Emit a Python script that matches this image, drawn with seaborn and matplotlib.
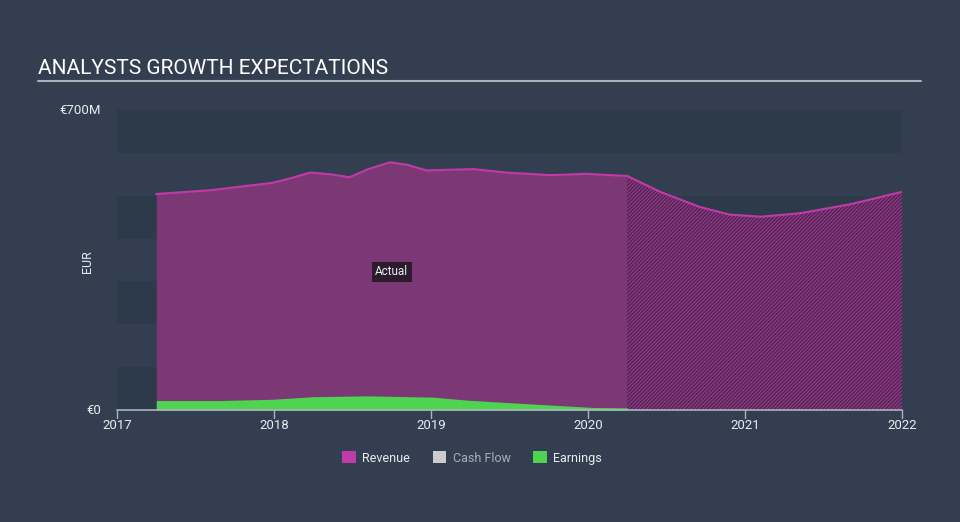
import matplotlib
matplotlib.use("Agg")
import matplotlib.pyplot as plt
import seaborn as sns
import pandas as pd
import numpy as np

# ---- data (EUR millions) ----
rev_years = [2017.25, 2017.6, 2017.99, 2018.1, 2018.23, 2018.36, 2018.48, 2018.6, 2018.74, 2018.85,
             2018.97, 2019.27, 2019.48, 2019.76, 2019.99, 2020.25]
rev_values = [504, 513, 530, 540, 554, 550, 543, 562, 578, 572, 559, 562, 554, 548, 551, 546]

fc_years = [2020.25, 2020.46, 2020.71, 2020.90, 2021.10, 2021.35, 2021.67, 2022.0]
fc_values = [546, 509, 474, 456, 451, 459, 480, 509]

earn_years = [2017.25, 2017.64, 2017.99, 2018.25, 2018.59, 2019.01, 2019.23, 2019.55, 2020.03, 2020.25]
earn_values = [22, 22, 25, 31, 33, 30, 23, 16, 6, 5]

year_ticks = [2017, 2018, 2019, 2020, 2021, 2022]
y_labels = ["€0", "€700M"]
legend_names = ["Revenue", "Cash Flow", "Earnings"]

BG = "#333f50"
BAND = "#2d3a4a"
REV_LINE = "#c03ba8"
REV_FILL = "#7b3874"
FC_FILL = "#4c2a52"
FC_HATCH = "#a93594"
EARN = "#4fd452"
CASH = "#cccccc"
TXT = "#e8ecef"

sns.set_theme(style="dark")
plt.rcParams["font.family"] = ["Roboto", "DejaVu Sans"]
plt.rcParams["hatch.linewidth"] = 0.7

fig = plt.figure(figsize=(9.6, 5.22), dpi=100, facecolor=BG)
ax = fig.add_axes([117 / 960, 1 - 410 / 522, (902 - 117) / 960, 300 / 522])
ax.set_facecolor(BG)
ax.set_xlim(2017, 2022)
ax.set_ylim(0, 700)

# horizontal bands
for lo in range(0, 700, 200):
    ax.axhspan(lo, lo + 100, color=BAND, lw=0, zorder=0)
ax.axhspan(600, 700, color=BAND, lw=0, zorder=0)

rev_df = pd.DataFrame({"year": rev_years, "value": rev_values})
fc_df = pd.DataFrame({"year": fc_years, "value": fc_values})
earn_df = pd.DataFrame({"year": earn_years, "value": earn_values})

ax.fill_between(rev_df["year"], 0, rev_df["value"], color=REV_FILL, lw=0, zorder=2)
ax.fill_between(fc_df["year"], 0, fc_df["value"], facecolor=FC_FILL, edgecolor=FC_HATCH,
                hatch="/////////", lw=0, zorder=2)
sns.lineplot(data=rev_df, x="year", y="value", ax=ax, color=REV_LINE, lw=1.5, zorder=3)
sns.lineplot(data=fc_df, x="year", y="value", ax=ax, color=REV_LINE, lw=1.5, zorder=3)
ax.fill_between(earn_df["year"], 0, earn_df["value"], color=EARN, lw=0, zorder=4)

for s in ax.spines.values():
    s.set_visible(False)
ax.set_xticks([])
ax.set_yticks([])
ax.set_xlabel("")
ax.set_ylabel("")

# x axis line and ticks
ax.plot([2017, 2022], [0, 0], color="#aab4bd", lw=1.2, zorder=5, clip_on=False)
for yr in year_ticks:
    ax.plot([yr, yr], [0, -18], color="#aab4bd", lw=1.0, clip_on=False, zorder=5)
    ax.text(yr, -22, str(yr), ha="center", va="top", color=TXT, fontsize=9.5)

ax.text(-0.02, 0, y_labels[0], transform=ax.get_yaxis_transform(), ha="right", va="center",
        color=TXT, fontsize=9.5)
ax.text(-0.02, 700, y_labels[1], transform=ax.get_yaxis_transform(), ha="right", va="center",
        color=TXT, fontsize=9.5)
fig.text(87 / 960, 1 - 262 / 522, "EUR", rotation=90, ha="center", va="center", color=TXT, fontsize=9)

ax.text(2018.75, 323, "Actual", ha="center", va="center", color=TXT, fontsize=8.5, zorder=6,
        bbox=dict(boxstyle="square,pad=0.3", fc="#2c1a2f", ec="none"))

# title
fig.text(38 / 960, 1 - 68 / 522, "ANALYSTS GROWTH EXPECTATIONS", ha="left", va="center",
         color="#ffffff", fontsize=15)
fig.add_artist(plt.Line2D([38 / 960, 921 / 960], [1 - 81 / 522, 1 - 81 / 522],
                          color="#aab2ba", lw=1.5))

# legend
handles = [plt.Rectangle((0, 0), 1, 1, fc=c, ec="none") for c in (REV_LINE, CASH, EARN)]
leg = fig.legend(handles, legend_names, loc="center", bbox_to_anchor=(472 / 960, 1 - 458 / 522),
                 ncol=3, frameon=False, fontsize=9, handlelength=1.1, handleheight=1.1,
                 columnspacing=1.8, handletextpad=0.5)
for t, c in zip(leg.get_texts(), (TXT, "#a6aeb6", TXT)):
    t.set_color(c)

fig.savefig("out.png", dpi=100, facecolor=BG)
